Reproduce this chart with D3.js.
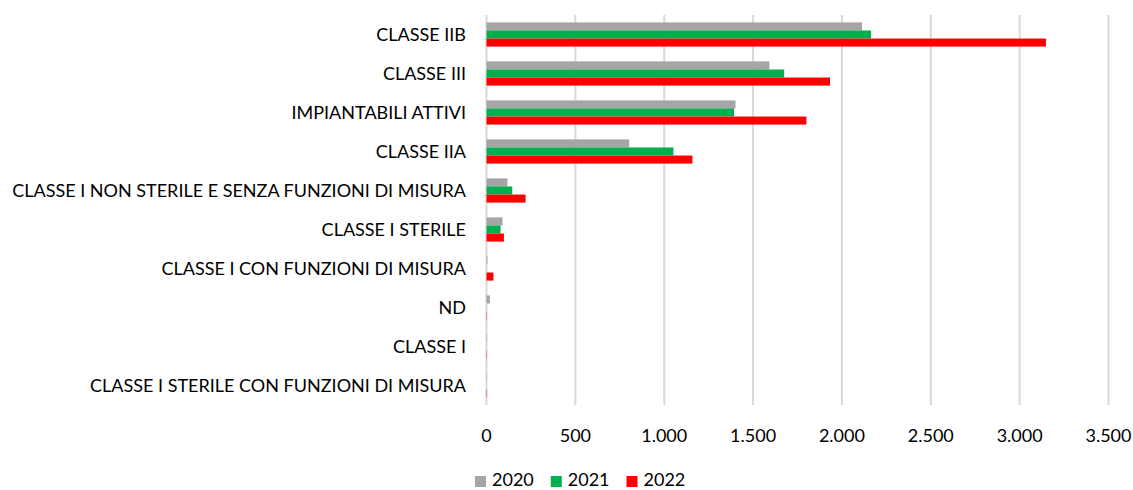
<!DOCTYPE html>
<html><head><meta charset="utf-8">
<script src="https://cdn.jsdelivr.net/npm/d3@7"></script>
<style>body{margin:0;background:#fff}svg text{font-family:Lato,"Open Sans",sans-serif;fill:#000}</style>
</head><body>
<svg id="c" width="1133" height="490"></svg>
<script>
const categories = ["CLASSE IIB","CLASSE III","IMPIANTABILI ATTIVI","CLASSE IIA","CLASSE I NON STERILE E SENZA FUNZIONI DI MISURA","CLASSE I STERILE","CLASSE I CON FUNZIONI DI MISURA","ND","CLASSE I","CLASSE I STERILE CON FUNZIONI DI MISURA"];
const years = ["2020","2021","2022"];
const v2020 = [2113,1592,1401,803,118,90,5,19,3,2];
const v2021 = [2164,1675,1393,1052,145,79,0,0,0,0];
const v2022 = [3148,1933,1800,1159,220,98,39,2,2,2];
const colors = ["#a5a5a5","#00b050","#ff0000"];
const ticks = [0,500,1000,1500,2000,2500,3000,3500];

(function(){
const series = [v2020,v2021,v2022];
const svg = d3.select("#c");
const pl = 486.5, pr = 1108.5, pt = 15, pb = 405;
const x = d3.scaleLinear().domain([0,3500]).range([pl,pr]);
const y = d3.scaleBand().domain(categories).range([pt,pb]).paddingInner(0.38).paddingOuter(0.19);
const y1 = d3.scaleBand().domain(years).range([0,y.bandwidth()]);
const FS = 18;

const fmt = d => d3.format(",")(d).replace(/,/g,".");
svg.append("g").selectAll("line").data(ticks).join("line")
  .attr("x1",d=>x(d)).attr("x2",d=>x(d)).attr("y1",pt).attr("y2",pb)
  .attr("stroke","#d9d9d9").attr("stroke-width",2);

const g = svg.append("g");
categories.forEach((c,i)=>{
  years.forEach((yr,j)=>{
    g.append("rect").attr("x",x(0)).attr("y",y(c)+y1(yr))
     .attr("width",Math.max(0,x(series[j][i])-x(0))).attr("height",y1.bandwidth())
     .attr("fill",colors[j]);
  });
});

svg.append("g").selectAll("text").data(categories).join("text")
  .attr("x",466).attr("y",d=>y(d)+y.bandwidth()/2).attr("dy","0.35em")
  .attr("text-anchor","end").attr("font-size",FS).text(d=>d);

svg.append("g").selectAll("text").data(ticks).join("text")
  .attr("x",d=>x(d)).attr("y",436).attr("dy","0.35em")
  .attr("text-anchor","middle").attr("font-size",FS).text(fmt);

const lg = svg.append("g");
let cx = 475;
years.forEach((yr,j)=>{
  lg.append("rect").attr("x",cx).attr("y",476).attr("width",11).attr("height",11).attr("fill",colors[j]);
  const t = lg.append("text").attr("x",cx+17).attr("y",479.5).attr("dy","0.35em").attr("font-size",FS).text(yr);
  cx = cx + 17 + t.node().getComputedTextLength() + 17;
});
})();
</script>
</body></html>
